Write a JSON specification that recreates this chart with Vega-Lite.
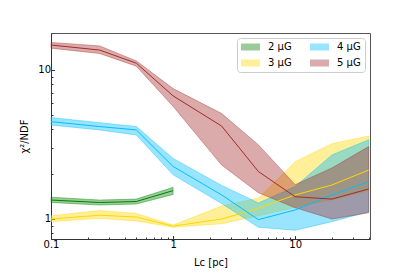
{
  "$schema": "https://vega.github.io/schema/vega-lite/v6.json",
  "width": 319,
  "height": 206,
  "autosize": {"type": "none"},
  "padding": {"left": 51, "top": 33, "right": 41, "bottom": 35},
  "config": {
    "font": "DejaVu Sans",
    "view": {"stroke": "#555", "strokeWidth": 1},
    "axis": {
      "labelFont": "DejaVu Sans", "labelFontSize": 10, "labelColor": "#000",
      "titleFont": "DejaVu Sans", "titleFontSize": 10, "titleFontWeight": "normal", "titleColor": "#000",
      "domainColor": "#333", "tickColor": "#333", "grid": false, "labelFlush": false, "labelOverlap": false
    },
    "legend": {
      "orient": "top-right", "offset": 5, "columns": 2, "columnPadding": 18, "rowPadding": 6,
      "symbolType": "M-1.9,-0.7H1.9V0.7H-1.9Z", "symbolSize": 100, "symbolOffset": 4.5, "symbolOpacity": 0.4, "symbolStrokeWidth": 0,
      "labelFont": "DejaVu Sans", "labelFontSize": 10, "labelColor": "#000", "labelOffset": 12.5,
      "padding": 4, "fillColor": "white", "strokeColor": "#ccc", "cornerRadius": 3
    }
  },
  "data": {"values": [
    {"series": "2 μG", "x": 0.1, "lo": 1.29, "mid": 1.34, "hi": 1.40},
    {"series": "2 μG", "x": 0.25, "lo": 1.24, "mid": 1.29, "hi": 1.34},
    {"series": "2 μG", "x": 0.5, "lo": 1.26, "mid": 1.31, "hi": 1.36},
    {"series": "2 μG", "x": 1, "lo": 1.46, "mid": 1.55, "hi": 1.63},
    {"series": "3 μG", "x": 0.1, "lo": 0.96, "mid": 1.00, "hi": 1.05},
    {"series": "3 μG", "x": 0.25, "lo": 1.01, "mid": 1.06, "hi": 1.14},
    {"series": "3 μG", "x": 0.5, "lo": 0.97, "mid": 1.03, "hi": 1.09},
    {"series": "3 μG", "x": 1, "lo": 0.88, "mid": 0.895, "hi": 0.91},
    {"series": "3 μG", "x": 2.5, "lo": 0.93, "mid": 1.0, "hi": 1.22},
    {"series": "3 μG", "x": 5, "lo": 1.05, "mid": 1.18, "hi": 1.38},
    {"series": "3 μG", "x": 10, "lo": 1.2, "mid": 1.45, "hi": 2.42},
    {"series": "3 μG", "x": 20, "lo": 1.35, "mid": 1.69, "hi": 3.2},
    {"series": "3 μG", "x": 40, "lo": 1.55, "mid": 2.13, "hi": 3.6},
    {"series": "4 μG", "x": 0.1, "lo": 4.27, "mid": 4.5, "hi": 4.79},
    {"series": "4 μG", "x": 0.25, "lo": 3.96, "mid": 4.17, "hi": 4.43},
    {"series": "4 μG", "x": 0.5, "lo": 3.66, "mid": 3.96, "hi": 4.17},
    {"series": "4 μG", "x": 1, "lo": 1.98, "mid": 2.25, "hi": 2.55},
    {"series": "4 μG", "x": 2.5, "lo": 1.27, "mid": 1.45, "hi": 1.68},
    {"series": "4 μG", "x": 5, "lo": 0.88, "mid": 0.99, "hi": 1.28},
    {"series": "4 μG", "x": 10, "lo": 0.84, "mid": 1.15, "hi": 1.65},
    {"series": "4 μG", "x": 20, "lo": 0.96, "mid": 1.45, "hi": 2.69},
    {"series": "4 μG", "x": 40, "lo": 1.12, "mid": 1.78, "hi": 3.4},
    {"series": "5 μG", "x": 0.1, "lo": 14.0, "mid": 14.7, "hi": 15.3},
    {"series": "5 μG", "x": 0.25, "lo": 12.9, "mid": 13.6, "hi": 14.5},
    {"series": "5 μG", "x": 0.5, "lo": 10.6, "mid": 11.1, "hi": 11.5},
    {"series": "5 μG", "x": 1, "lo": 5.7, "mid": 6.7, "hi": 7.5},
    {"series": "5 μG", "x": 2.5, "lo": 2.3, "mid": 4.2, "hi": 5.1},
    {"series": "5 μG", "x": 5, "lo": 1.5, "mid": 2.08, "hi": 3.14},
    {"series": "5 μG", "x": 10, "lo": 1.19, "mid": 1.41, "hi": 1.7},
    {"series": "5 μG", "x": 20, "lo": 1.0, "mid": 1.36, "hi": 2.2},
    {"series": "5 μG", "x": 40, "lo": 1.1, "mid": 1.59, "hi": 3.06}
  ]},
  "layer": [
    {
      "mark": {"type": "area", "fillOpacity": 0.4, "strokeOpacity": 0.4, "strokeWidth": 1},
      "encoding": {
        "x": {"field": "x", "type": "quantitative",
          "scale": {"type": "log", "domain": [0.1, 41], "nice": false},
          "axis": {
            "values": [0.1, 0.2, 0.3, 0.4, 0.5, 0.6, 0.7, 0.8, 0.9, 1, 2, 3, 4, 5, 6, 7, 8, 9, 10, 20, 30, 40],
            "labelExpr": "datum.value == 0.1 ? '0.1' : datum.value == 1 ? '1' : datum.value == 10 ? '10' : ''",
            "tickSize": {"condition": {"test": "datum.value == 0.1 || datum.value == 1 || datum.value == 10", "value": -3.5}, "value": -2},
            "labelPadding": 4, "title": "Lc [pc]", "titlePadding": 6
          }},
        "y": {"field": "lo", "type": "quantitative",
          "scale": {"type": "log", "domain": [0.734, 17.7], "nice": false},
          "axis": {
            "values": [0.8, 0.9, 1, 2, 3, 4, 5, 6, 7, 8, 9, 10],
            "labelExpr": "datum.value == 1 ? '1' : datum.value == 10 ? '10' : ''",
            "tickSize": {"condition": {"test": "datum.value == 1 || datum.value == 10", "value": -3.5}, "value": -2},
            "labelPadding": 4, "title": "χ²/NDF", "titlePadding": 8
          }},
        "y2": {"field": "hi"},
        "fill": {"field": "series", "type": "nominal",
          "scale": {"domain": ["2 μG", "3 μG", "4 μG", "5 μG"], "range": ["green", "gold", "deepskyblue", "brown"]},
          "legend": {"title": null}},
        "stroke": {"field": "series", "type": "nominal",
          "scale": {"domain": ["2 μG", "3 μG", "4 μG", "5 μG"], "range": ["green", "gold", "deepskyblue", "brown"]},
          "legend": null}
      }
    },
    {
      "mark": {"type": "line", "strokeWidth": 1},
      "encoding": {
        "x": {"field": "x", "type": "quantitative"},
        "y": {"field": "mid", "type": "quantitative"},
        "stroke": {"field": "series", "type": "nominal", "legend": null}
      }
    }
  ]
}
